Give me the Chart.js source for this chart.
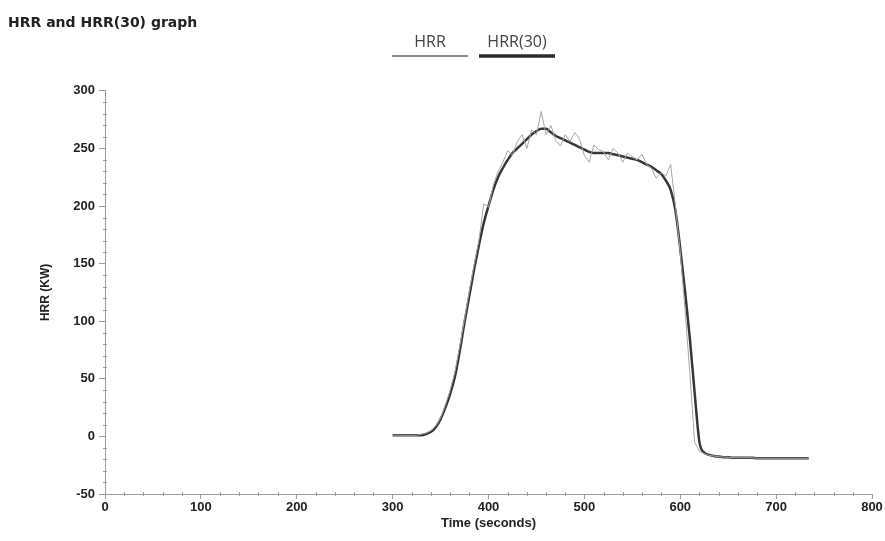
<!DOCTYPE html>
<html>
<head>
<meta charset="utf-8">
<script src="https://cdn.jsdelivr.net/npm/chart.js@4.4.1/dist/chart.umd.min.js"></script>
<style>
  html, body { margin: 0; padding: 0; background: #fff; }
  #wrap { position: relative; width: 885px; height: 541px; }
</style>
</head>
<body>
<div id="wrap"><canvas id="chart" width="885" height="541"></canvas></div>
<script>
/* ─── Data ────────────────────────────────────────────── */
const times = [
  300, 305, 310, 315, 320, 325, 330, 335, 340, 345,
  350, 355, 360, 365, 370, 375, 380, 385, 390, 395,
  400, 405, 410, 415, 420, 425, 430, 435, 440, 445,
  450, 455, 460, 465, 470, 475, 480, 485, 490, 495,
  500, 505, 510, 515, 520, 525, 530, 535, 540, 545,
  550, 555, 560, 565, 570, 575, 580, 585, 590, 595,
  600, 605, 610, 615, 620, 625, 630, 635, 640, 645,
  650, 655, 660, 665, 670, 675, 680, 685, 690, 695,
  700, 705, 710, 715, 720, 725, 730, 734
];
const hrr = [
  1, 1, 1, 1, 1, 1, 2, 3, 5, 9,
  16, 27, 40, 56, 78, 102, 126, 149, 170, 202,
  199, 218, 230, 238, 248, 244, 256, 262, 250, 266,
  262, 282, 262, 270, 257, 252, 262, 256, 264, 258,
  244, 238, 253, 249, 247, 240, 250, 246, 238, 246,
  243, 240, 245, 236, 233, 224, 229, 226, 236, 200,
  160, 110, 55, -5, -13, -15, -16.5, -17, -17.5, -18,
  -18, -18.5, -18.5, -18.5, -18.5, -18.5, -19, -19, -19, -19,
  -19, -19, -19, -19, -19, -19, -19, -19
];
const hrr30 = [
  1, 1, 1, 1, 1, 1, 1, 2, 4, 8,
  15, 25, 37, 52, 74, 99, 122, 145, 166, 185,
  200, 214, 225, 233, 240, 246, 250, 254, 258, 262,
  265, 267, 267, 264, 261, 259, 257, 255, 253, 251,
  249, 247, 246, 246, 246, 246, 245, 244, 243, 242,
  241, 240, 238, 236, 234, 231, 228, 222, 214, 196,
  163, 126, 85, 38, -5, -14, -16, -17, -17.5, -18,
  -18, -18.5, -18.5, -18.5, -18.5, -18.5, -19, -19, -19, -19,
  -19, -19, -19, -19, -19, -19, -19, -19
];
const xTicks = [0, 100, 200, 300, 400, 500, 600, 700, 800];
const yTicks = [-50, 0, 50, 100, 150, 200, 250, 300];

const AXIS = '#9a9a9a';
const TEXT = '#222';

/* ─── Minor ticks + top legend ────────────────────────── */
const minorTicks = {
  id: 'minorTicks',
  afterDraw(chart) {
    const { ctx, scales: { x, y }, chartArea: a } = chart;
    ctx.save();
    ctx.strokeStyle = AXIS;
    ctx.lineWidth = 1;
    for (let v = y.min; v <= y.max; v += 10) {
      if (v % 50 === 0) continue;
      const py = Math.round(y.getPixelForValue(v)) + 0.5;
      ctx.beginPath(); ctx.moveTo(a.left - 2, py); ctx.lineTo(a.left + 2, py); ctx.stroke();
    }
    for (let v = x.min; v <= x.max; v += 20) {
      if (v % 100 === 0) continue;
      const px = Math.round(x.getPixelForValue(v)) + 0.5;
      ctx.beginPath(); ctx.moveTo(px, a.bottom - 2); ctx.lineTo(px, a.bottom + 2); ctx.stroke();
    }
    ctx.restore();
  }
};

const topLegend = {
  id: 'topLegend',
  afterDraw(chart) {
    const { ctx } = chart;
    const items = [
      { label: 'HRR',     x0: 392, x1: 468, w: 1.5, c: '#666' },
      { label: 'HRR(30)', x0: 479, x1: 555, w: 3.5, c: '#2e2e2e' }
    ];
    ctx.save();
    ctx.font = "16px 'Open Sans', sans-serif";
    ctx.fillStyle = '#444';
    ctx.textAlign = 'center';
    ctx.textBaseline = 'middle';
    items.forEach(it => {
      ctx.fillText(it.label, (it.x0 + it.x1) / 2, 42);
      ctx.strokeStyle = it.c;
      ctx.lineWidth = it.w;
      ctx.beginPath(); ctx.moveTo(it.x0, 56); ctx.lineTo(it.x1, 56); ctx.stroke();
    });
    ctx.restore();
  }
};

/* ─── Chart ───────────────────────────────────────────── */
new Chart(document.getElementById('chart'), {
  type: 'line',
  data: {
    datasets: [
      {
        label: 'HRR',
        data: times.map((t, i) => ({ x: t, y: hrr[i] })),
        borderColor: '#a6a6a6',
        borderWidth: 1,
        pointRadius: 0,
        tension: 0
      },
      {
        label: 'HRR(30)',
        data: times.map((t, i) => ({ x: t, y: hrr30[i] })),
        borderColor: '#363636',
        borderWidth: 2.5,
        pointRadius: 0,
        cubicInterpolationMode: 'monotone'
      }
    ]
  },
  options: {
    responsive: false,
    animation: false,
    layout: { padding: { top: 0, right: 13, bottom: 0, left: 8 } },
    plugins: {
      legend: { display: false },
      tooltip: { enabled: false },
      title: {
        display: true,
        text: 'HRR and HRR(30) graph',
        align: 'start',
        color: TEXT,
        font: { family: "'DejaVu Sans', sans-serif", size: 14, weight: 'bold' },
        padding: { top: 15, bottom: 59 }
      }
    },
    scales: {
      x: {
        type: 'linear',
        min: 0, max: 800,
        afterBuildTicks: s => { s.ticks = xTicks.map(v => ({ value: v })); },
        afterFit: s => { s.height = 47; },
        border: { color: AXIS },
        grid: { drawOnChartArea: false, tickLength: 5, color: AXIS },
        ticks: {
          color: TEXT, padding: 1, maxRotation: 0,
          font: { family: "'Liberation Sans', Arial, sans-serif", size: 13, weight: 'bold' }
        },
        title: {
          display: true, text: 'Time (seconds)', color: TEXT,
          font: { family: "'Liberation Sans', Arial, sans-serif", size: 13, weight: 'bold' },
          padding: { top: 10, bottom: 10 }
        }
      },
      y: {
        min: -50, max: 300,
        afterBuildTicks: s => { s.ticks = yTicks.map(v => ({ value: v })); },
        afterFit: s => { s.width = 97; },
        border: { color: AXIS },
        grid: { drawOnChartArea: false, tickLength: 6, color: AXIS },
        ticks: {
          color: TEXT, padding: 4,
          font: { family: "'Liberation Sans', Arial, sans-serif", size: 13, weight: 'bold' }
        },
        title: {
          display: true, text: 'HRR (KW)', color: TEXT,
          font: { family: "'Liberation Sans', Arial, sans-serif", size: 12, weight: 'bold' },
          padding: { top: 30, bottom: 30 }
        }
      }
    }
  },
  plugins: [minorTicks, topLegend]
});
</script>
</body>
</html>
